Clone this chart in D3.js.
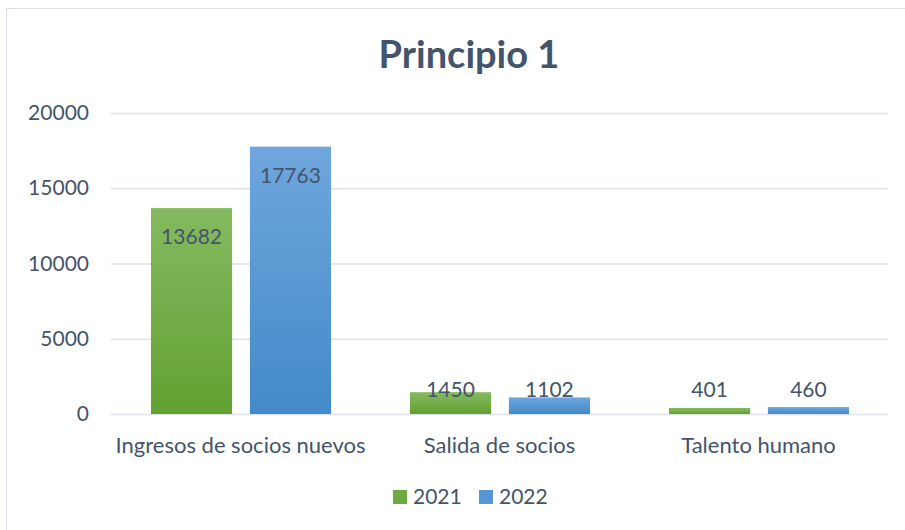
<!DOCTYPE html>
<html>
<head>
<meta charset="utf-8">
<script src="https://cdn.jsdelivr.net/npm/d3@7"></script>
<style>
  body { margin: 0; background: #fff; }
  text { font-family: Lato, "Open Sans", sans-serif; fill: #44546A; }
</style>
</head>
<body>
<div id="container"></div>
<script>
// chart data
var categories = ["Ingresos de socios nuevos", "Salida de socios", "Talento humano"];
var years = ["2021", "2022"];
var values2021 = [13682, 1450, 401];
var values2022 = [17763, 1102, 460];
var yTicks = [0, 5000, 10000, 15000, 20000];

var W = 905, H = 530;
var margin = {top: 113, right: 17, bottom: 116, left: 111};
var width = W - margin.left - margin.right;
var height = H - margin.top - margin.bottom;

var svg = d3.select("#container").append("svg")
  .attr("width", W).attr("height", H);

// gradients for the bars
var defs = svg.append("defs");
var grads = [["g2021", "#85BA60", "#62A132"], ["g2022", "#6FA6DD", "#428AC9"]];
grads.forEach(function(g) {
  var lg = defs.append("linearGradient").attr("id", g[0])
    .attr("x1", 0).attr("y1", 0).attr("x2", 0).attr("y2", 1);
  lg.append("stop").attr("offset", "0%").attr("stop-color", g[1]);
  lg.append("stop").attr("offset", "100%").attr("stop-color", g[2]);
});
var fills = {"2021": "url(#g2021)", "2022": "url(#g2022)"};
var legendColors = {"2021": "#6DAA42", "2022": "#5596D4"};

// chart frame
svg.append("rect")
  .attr("x", 6.5).attr("y", 8.5).attr("width", W + 10).attr("height", H + 10)
  .attr("fill", "none").attr("stroke", "#D9DEE6").attr("stroke-width", 1);

// title
svg.append("text")
  .attr("x", 469).attr("y", 68)
  .attr("text-anchor", "middle")
  .style("font-size", "38px").style("font-weight", "bold")
  .text("Principio 1");

var g = svg.append("g").attr("transform", "translate(" + margin.left + "," + margin.top + ")");

var x = d3.scaleBand().domain(categories).range([0, width]).paddingInner(0).paddingOuter(0);
var xSub = d3.scaleBand().domain(years).range([40, x.bandwidth() - 39]).paddingInner(0.18);
var y = d3.scaleLinear().domain([0, 20000]).range([height, 0]);

// gridlines
var yAxis = g.append("g")
  .call(d3.axisLeft(y).tickValues(yTicks).tickSize(-width).tickPadding(22).tickFormat(d3.format("d")));
yAxis.select(".domain").remove();
yAxis.selectAll(".tick line").attr("stroke", "#DDE1E8").attr("stroke-width", 1.3);
yAxis.selectAll(".tick text").style("font-size", "21px").attr("fill", "#44546A");

// category labels
var xAxis = g.append("g").attr("transform", "translate(0," + height + ")")
  .call(d3.axisBottom(x).tickSize(0).tickPadding(23));
xAxis.select(".domain").remove();
xAxis.selectAll(".tick text").style("font-size", "22px").attr("fill", "#44546A");

var rows = categories.map(function(c, i) {
  return [{cat: c, key: "2021", value: values2021[i]}, {cat: c, key: "2022", value: values2022[i]}];
});

var groups = g.selectAll(".cat").data(rows).enter().append("g")
  .attr("transform", function(d) { return "translate(" + x(d[0].cat) + ",0)"; });

groups.selectAll("rect").data(function(d) { return d; }).enter().append("rect")
  .attr("x", function(d) { return xSub(d.key); })
  .attr("y", function(d) { return y(d.value); })
  .attr("width", xSub.bandwidth())
  .attr("height", function(d) { return height - y(d.value); })
  .attr("fill", function(d) { return fills[d.key]; });

// value labels (inside end, pushed up for short bars)
groups.selectAll(".lbl").data(function(d) { return d; }).enter().append("text")
  .attr("x", function(d) { return xSub(d.key) + xSub.bandwidth() / 2; })
  .attr("y", function(d) { return Math.min(y(d.value) + 29, height - 24); })
  .attr("dy", "0.35em")
  .attr("text-anchor", "middle")
  .style("font-size", "21px")
  .text(function(d) { return d.value; });

// legend
var legend = svg.append("g").attr("transform", "translate(393,497)");
var lx = 0;
years.forEach(function(yr) {
  legend.append("rect").attr("x", lx).attr("y", -7).attr("width", 14).attr("height", 14)
    .attr("fill", legendColors[yr]);
  legend.append("text").attr("x", lx + 20).attr("y", 0).attr("dy", "0.35em")
    .style("font-size", "21px").text(yr);
  lx += 86;
});
</script>
</body>
</html>
